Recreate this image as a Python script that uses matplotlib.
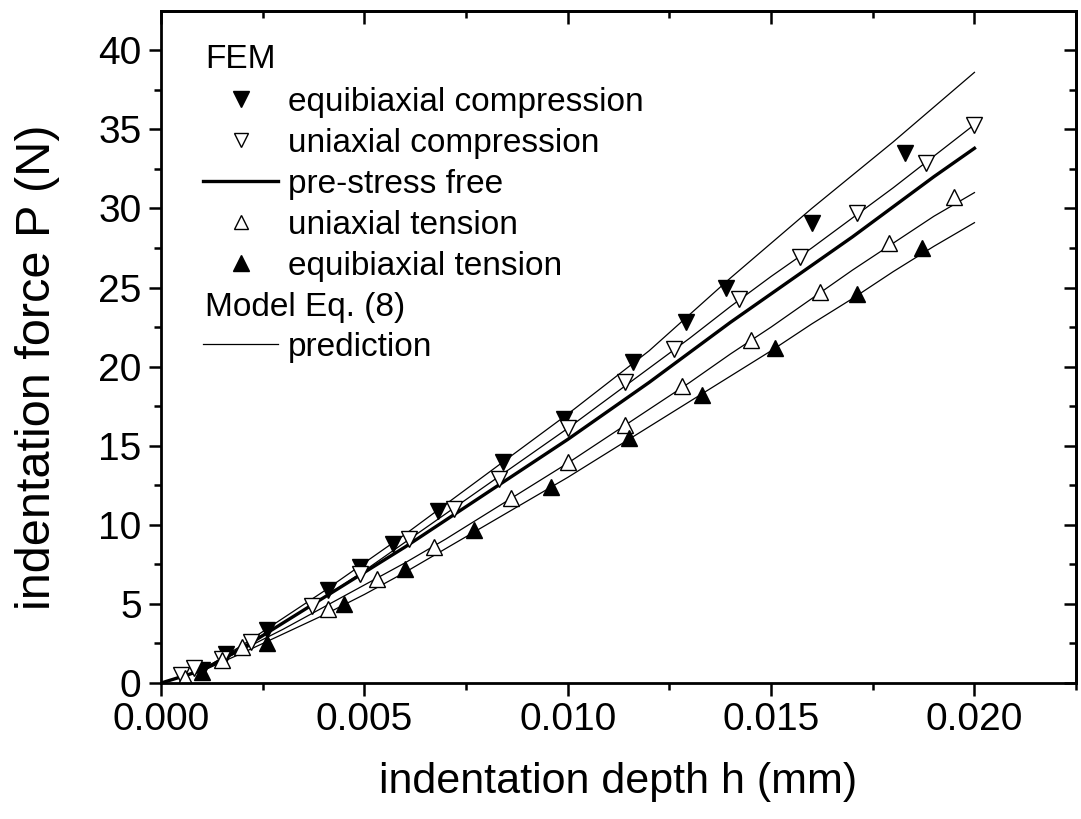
import matplotlib
matplotlib.use("Agg")
import matplotlib.pyplot as plt
from matplotlib.lines import Line2D

plt.rcParams['font.family'] = ['Liberation Sans', 'DejaVu Sans']

# FEM results (markers)
h_eq_comp = [0.0010, 0.0016, 0.0026, 0.0041, 0.0049, 0.0057, 0.0068, 0.0084, 0.0099, 0.0116, 0.0129, 0.0139, 0.0160, 0.0183]
P_eq_comp = [0.85, 1.85, 3.35, 5.9, 7.35, 8.8, 10.9, 13.95, 16.7, 20.3, 22.8, 25.0, 29.1, 33.5]

h_uni_comp = [0.0005, 0.0008, 0.0015, 0.0022, 0.0037, 0.0049, 0.0061, 0.0072, 0.0083, 0.0100, 0.0114, 0.0126, 0.0142, 0.0157, 0.0171, 0.0188, 0.0200]
P_uni_comp = [0.5, 0.95, 1.5, 2.6, 4.9, 6.9, 9.1, 11.0, 12.9, 16.1, 19.0, 21.1, 24.3, 26.9, 29.7, 32.9, 35.3]

h_uni_ten = [0.0006, 0.0015, 0.0020, 0.0041, 0.0053, 0.0067, 0.0086, 0.0100, 0.0114, 0.0128, 0.0145, 0.0162, 0.0179, 0.0195]
P_uni_ten = [0.3, 1.45, 2.3, 4.7, 6.6, 8.6, 11.7, 14.0, 16.3, 18.8, 21.7, 24.7, 27.8, 30.7]

h_eq_ten = [0.0010, 0.0026, 0.0045, 0.0060, 0.0077, 0.0096, 0.0115, 0.0133, 0.0151, 0.0171, 0.0187]
P_eq_ten = [0.7, 2.5, 5.0, 7.2, 9.7, 12.4, 15.5, 18.2, 21.2, 24.6, 27.5]

# model Eq. (8) predictions and pre-stress free curve
h_model = [0.000, 0.001, 0.002, 0.003, 0.004, 0.005, 0.006, 0.007, 0.008, 0.009, 0.010,
           0.011, 0.012, 0.013, 0.014, 0.015, 0.016, 0.017, 0.018, 0.019, 0.020]
P_pred_eq_comp = [0, 0.8, 2.4, 4.1, 5.8, 7.6, 9.4, 11.3, 13.2, 15.1, 17.0,
                  19.0, 21.0, 23.3, 25.6, 27.8, 30.0, 32.1, 34.2, 36.4, 38.6]
P_pred_uni_comp = [0, 0.8, 2.3, 3.8, 5.4, 7.1, 8.9, 10.7, 12.5, 14.3, 16.1,
                   18.0, 19.9, 21.8, 23.8, 25.7, 27.5, 29.4, 31.3, 33.3, 35.3]
P_free = [0, 0.8, 2.2, 3.8, 5.4, 7.0, 8.6, 10.3, 12.0, 13.7, 15.4,
          17.2, 19.0, 20.9, 22.8, 24.6, 26.4, 28.2, 30.1, 32.0, 33.8]
P_pred_uni_ten = [0, 0.8, 2.1, 3.4, 4.8, 6.2, 7.6, 9.1, 10.7, 12.3, 13.9,
                  15.6, 17.3, 19.0, 20.8, 22.5, 24.3, 26.1, 27.8, 29.5, 31.0]
P_pred_eq_ten = [0, 0.75, 1.9, 3.1, 4.3, 5.6, 7.0, 8.5, 10.0, 11.5, 13.0,
                 14.6, 16.2, 17.8, 19.4, 21.0, 22.7, 24.3, 26.0, 27.6, 29.1]

fig = plt.figure(figsize=(10.81, 8.19), dpi=100)
ax = fig.add_axes([0.149, 0.166, 0.8465, 0.821])

thin = 0.9
for P in [P_pred_eq_comp, P_pred_uni_comp, P_pred_uni_ten, P_pred_eq_ten]:
    ax.plot(h_model, P, color='black', lw=thin)
ax.plot(h_model, P_free, color='black', lw=2.4)

ms = 12
ax.plot(h_eq_comp, P_eq_comp, 'v', ms=ms, mfc='black', mec='black', mew=1)
ax.plot(h_uni_comp, P_uni_comp, 'v', ms=ms, mfc='white', mec='black', mew=1)
ax.plot(h_uni_ten, P_uni_ten, '^', ms=ms, mfc='white', mec='black', mew=1)
ax.plot(h_eq_ten, P_eq_ten, '^', ms=ms, mfc='black', mec='black', mew=1)

ax.set_xlim(0, 0.0225)
ax.set_ylim(0, 42.5)
ax.set_xticks([0, 0.005, 0.010, 0.015, 0.020])
ax.set_xticklabels(['0.000', '0.005', '0.010', '0.015', '0.020'])
ax.set_xticks([0.0025, 0.0075, 0.0125, 0.0175, 0.0225], minor=True)
ax.set_yticks(range(0, 41, 5))
ax.set_yticks([2.5 + 5 * i for i in range(8)], minor=True)

for s in ax.spines.values():
    s.set_linewidth(2.0)
ax.tick_params(which='both', width=1.8, labelsize=28)
ax.tick_params(which='major', length=9)
ax.tick_params(which='minor', length=5)
ax.tick_params(axis='x', which='both', direction='out', pad=5)
ax.tick_params(axis='y', which='both', direction='out', pad=5)

# inward ticks on top and right
axt = ax.secondary_xaxis('top')
axt.set_xticks([0, 0.005, 0.010, 0.015, 0.020])
axt.set_xticks([0.0025, 0.0075, 0.0125, 0.0175, 0.0225], minor=True)
axt.tick_params(which='both', direction='in', width=1.8, labeltop=False)
axt.tick_params(which='major', length=9)
axt.tick_params(which='minor', length=5)
axt.spines['top'].set_linewidth(2.0)
axr = ax.secondary_yaxis('right')
axr.set_yticks(range(0, 41, 5))
axr.set_yticks([2.5 + 5 * i for i in range(8)], minor=True)
axr.tick_params(which='both', direction='in', width=1.8, labelright=False)
axr.tick_params(which='major', length=9)
axr.tick_params(which='minor', length=5)
axr.spines['right'].set_linewidth(2.0)

ax.set_xlabel('indentation depth h (mm)', fontsize=31)
ax.set_ylabel('indentation force P (N)', fontsize=35)
ax.xaxis.label.set_va('center')
ax.yaxis.label.set_va('center')
ax.xaxis.set_label_coords(0.499, -0.147)
ax.yaxis.set_label_coords(-0.135, 0.47)

# legend
lfs = 24
handles1 = [
    Line2D([], [], ls='none', marker='v', ms=ms, mfc='black', mec='black'),
    Line2D([], [], ls='none', marker='v', ms=ms * 0.8, mfc='white', mec='black'),
    Line2D([], [], color='black', lw=2.4),
    Line2D([], [], ls='none', marker='^', ms=ms * 0.8, mfc='white', mec='black'),
    Line2D([], [], ls='none', marker='^', ms=ms, mfc='black', mec='black'),
]
labels1 = ['equibiaxial compression', 'uniaxial compression', 'pre-stress free',
           'uniaxial tension', 'equibiaxial tension']
leg_kw = dict(loc='upper left', frameon=False, fontsize=lfs, handlelength=2.25,
              handletextpad=0.3, labelspacing=0.3, borderpad=0, borderaxespad=0)
leg1 = ax.legend(handles1, labels1, bbox_to_anchor=(0.046, 0.887), **leg_kw)
ax.add_artist(leg1)
ax.legend([Line2D([], [], color='black', lw=thin)], ['prediction'],
          bbox_to_anchor=(0.046, 0.522), **leg_kw)
ax.text(0.048, 0.928, 'FEM', transform=ax.transAxes, fontsize=lfs, va='center', ha='left')
ax.text(0.048, 0.559, 'Model Eq. (8)', transform=ax.transAxes, fontsize=lfs, va='center', ha='left')

fig.savefig('out.png', dpi=100)
